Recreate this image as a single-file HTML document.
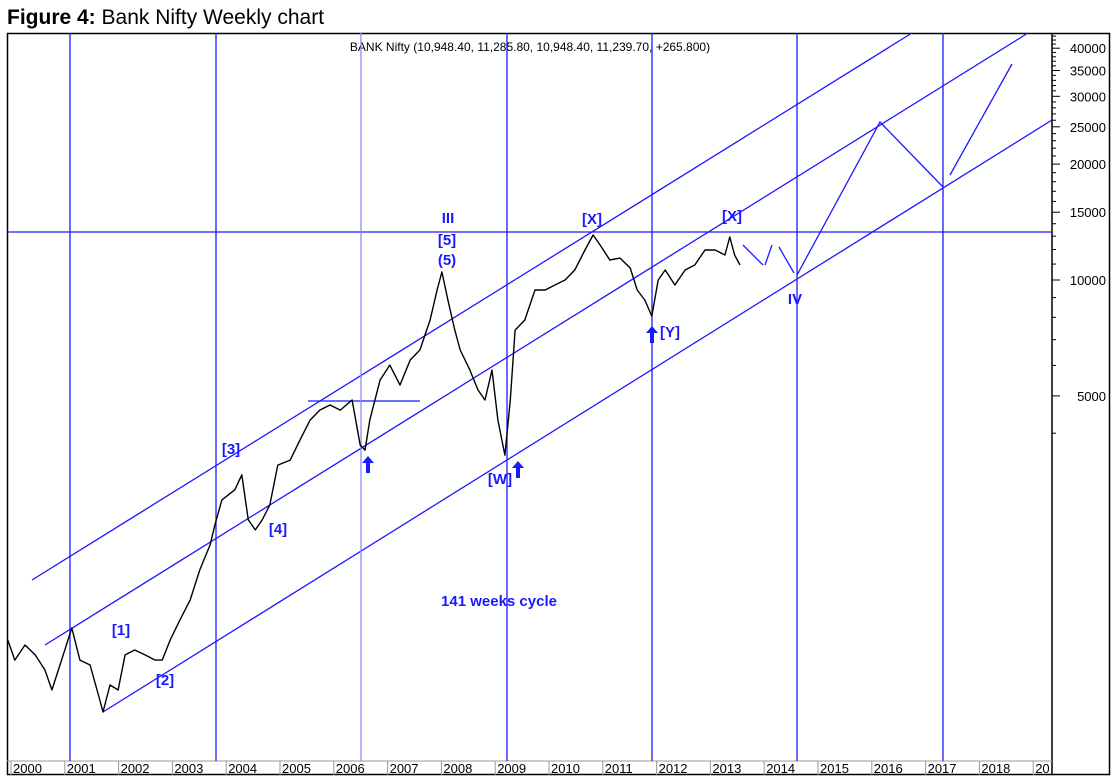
<!DOCTYPE html>
<html><head><meta charset="utf-8"><style>
body{margin:0;background:#fff;width:1119px;height:783px;overflow:hidden}
svg{display:block}
text{font-family:"Liberation Sans",Arial,sans-serif}
</style></head><body>
<svg id="c" width="1119" height="783">
<text x="7" y="24" font-size="21"><tspan font-weight="bold">Figure 4:</tspan> Bank Nifty Weekly chart</text>
<rect x="7.5" y="33.5" width="1102" height="741" fill="none" stroke="#000" stroke-width="1.5"/>
<line x1="1052" y1="33" x2="1052" y2="775" stroke="#000" stroke-width="1.5"/>
<line x1="7" y1="761" x2="1052" y2="761" stroke="#999"/>
<text x="530" y="51" font-size="12" text-anchor="middle">BANK Nifty (10,948.40, 11,285.80, 10,948.40, 11,239.70, +265.800)</text>
<g id="ann" stroke="#1a1aff" stroke-width="1.3" fill="none">
<line x1="32" y1="580" x2="912" y2="33"/>
<line x1="45" y1="645" x2="1028" y2="33"/>
<line x1="103" y1="712" x2="1052" y2="120"/>
<line x1="7" y1="232" x2="1052" y2="232"/>
<line x1="308" y1="401" x2="420" y2="401"/>
<line x1="70" y1="33" x2="70" y2="761"/>
<line x1="216" y1="33" x2="216" y2="761"/>
<line x1="361" y1="33" x2="361" y2="761" stroke="#8a8aff"/>
<line x1="507" y1="33" x2="507" y2="761"/>
<line x1="652" y1="33" x2="652" y2="761"/>
<line x1="797" y1="33" x2="797" y2="761"/>
<line x1="943" y1="33" x2="943" y2="761"/>
<polyline points="743,245 763,265"/>
<polyline points="765,265 772,245"/>
<polyline points="779,247 794,273"/>
<polyline points="797,275 880,122 943,187"/>
<polyline points="950,175 1012,64"/>
</g>
<g fill="#1a1aff" font-weight="bold" font-size="15" text-anchor="middle">
<text x="448" y="223">III</text>
<text x="447" y="245">[5]</text>
<text x="447" y="265">(5)</text>
<text x="592" y="224">[X]</text>
<text x="732" y="221">[X]</text>
<text x="795" y="304">IV</text>
<text x="670" y="337">[Y]</text>
<text x="500" y="484">[W]</text>
<text x="231" y="454">[3]</text>
<text x="278" y="534">[4]</text>
<text x="121" y="635">[1]</text>
<text x="165" y="685">[2]</text>
<text x="499" y="606">141 weeks cycle</text>
<path d="M368,456 l-6,7 h4 v10 h4 v-10 h4 z"/>
<path d="M518,461 l-6,7 h4 v10 h4 v-10 h4 z"/>
<path d="M652,326 l-6,7 h4 v10 h4 v-10 h4 z"/>
</g>
<g id="axes"></g>
<g id="series"></g>
</svg>
<script>
const years=[1999.94,2000.07,2000.26,2000.45,2000.63,2000.76,2000.91,2001.13,2001.28,2001.47,2001.65,2001.71,2001.84,2001.99,2002.12,2002.30,2002.49,2002.68,2002.81,2002.96,2003.14,2003.33,2003.51,2003.70,2003.79,2003.92,2004.16,2004.29,2004.41,2004.54,2004.67,2004.81,2004.96,2005.19,2005.37,2005.56,2005.74,2005.93,2006.12,2006.34,2006.49,2006.58,2006.67,2006.86,2007.04,2007.23,2007.42,2007.60,2007.79,2007.92,2008.01,2008.12,2008.25,2008.35,2008.53,2008.68,2008.81,2008.94,2009.05,2009.18,2009.28,2009.37,2009.55,2009.74,2009.93,2010.11,2010.30,2010.48,2010.67,2010.82,2010.95,2011.13,2011.32,2011.51,2011.64,2011.78,2011.91,2012.03,2012.16,2012.34,2012.53,2012.71,2012.90,2013.09,2013.27,2013.36,2013.45,2013.55];
const prices=[1161,1030,1127,1062,971,861,1000,1248,1030,1000,811,755,887,861,1062,1094,1062,1030,1030,1161,1309,1476,1766,2051,2311,2685,2851,3117,2382,2243,2382,2604,3306,3405,3837,4325,4592,4736,4592,4880,3726,3615,4325,5500,6011,5336,6197,6579,7874,9419,10490,8874,7413,6579,5834,5180,4880,5834,4325,3508,4880,7413,7874,9419,9419,9705,10000,10617,11967,13092,12331,11272,11402,10742,9419,8874,8058,10000,10617,9705,10617,10939,11967,11967,11614,12935,11614,10939];
const yTicks=[40000,35000,30000,25000,20000,15000,10000,5000];
const xLabels=["2000","2001","2002","2003","2004","2005","2006","2007","2008","2009","2010","2011","2012","2013","2014","2015","2016","2017","2018","20"];
const NS="http://www.w3.org/2000/svg";
const xs=y=>11+(y-2000)*53.8;
const ys=v=>280-385*Math.log10(v/10000);
const ax=document.getElementById('axes');
function mk(t,a,p){const e=document.createElementNS(NS,t);for(const k in a)e.setAttribute(k,a[k]);p.appendChild(e);return e;}
yTicks.forEach(v=>{
 const l=mk('line',{x1:1052,x2:1060,y1:ys(v),y2:ys(v),stroke:'#000'},ax);
 
 
 const t=mk('text',{x:1106,y:ys(v)+5,'font-size':13,'text-anchor':'end'},ax);
 t.textContent=v;
 
 
});
for(let v=4000;v<=43000;v+=1000){
 if(yTicks.includes(v))continue;
 const l=mk('line',{x1:1052,x2:1056,y1:ys(v),y2:ys(v),stroke:'#000'},ax);
 
 
}
xLabels.forEach((s,i)=>{
 const x=xs(2000+i);
 const l=mk('line',{x1:x,x2:x,y1:761,y2:775,stroke:'#999'},ax);
 
 
 const t=mk('text',{x:x+2,y:773,'font-size':13},ax);
 t.textContent=s;
 
 
});
const se=document.getElementById('series');
const pl=mk('polyline',{points:years.map((y,i)=>xs(y).toFixed(1)+','+ys(prices[i]).toFixed(1)).join(' '),fill:'none',stroke:'#000','stroke-width':1.4,'stroke-linejoin':'round'},se);


</script>
</body></html>
